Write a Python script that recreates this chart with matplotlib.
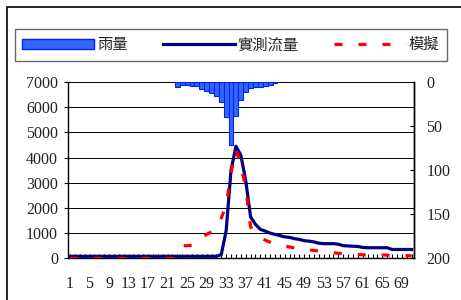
import matplotlib
matplotlib.use('Agg')
import matplotlib.pyplot as plt
from matplotlib.patches import Patch, Rectangle
from matplotlib.lines import Line2D

# time steps 1..71
categories = list(range(1, 72))

# measured discharge (實測流量)
measured = [80] * 31 + [150, 1100, 3500, 4450, 4100, 3100, 1650, 1350, 1150, 1080,
                        1000, 950, 900, 850, 830, 780, 750, 700, 680, 650,
                        600, 580, 580, 580, 560, 500, 490, 480, 470, 430] + [420] * 5 + [350] * 5

# simulated discharge (模擬)
simulated = [0] * 22 + [250, 500, 500, 520, 650, 800, 950, 1050, 1250, 1600,
                        2100, 3400, 4300, 3700, 2800, 1250, 1000, 820, 720, 640,
                        580, 530, 480, 450, 410, 380, 350, 330, 310, 290,
                        260, 240, 220, 200, 180, 170, 160, 150, 140] + [130] * 5 + [100] * 5

# rainfall (雨量), steps 23..43
rain_steps = list(range(23, 44))
rain = [5.5, 3, 3, 4.5, 5, 8, 10, 12, 16, 23, 40, 71, 39, 20, 11, 7, 6, 6, 4.5, 3.5, 1.5]

left_ticks = list(range(0, 7001, 1000))
right_ticks = [0, 50, 100, 150, 200]
xlabels = [str(c) if (c - 1) % 4 == 0 else '' for c in categories]

W, H = 461, 300
fig = plt.figure(figsize=(W / 100, H / 100), dpi=100)

# outer chart frame
fig.patches.append(Rectangle((6.5 / W, -0.5), 2, 1.5 - 6.5 / H, transform=fig.transFigure,
                             fill=False, edgecolor='black', lw=1.2))

ax = fig.add_axes([67.6 / W, 1 - 258.3 / H, (414 - 67.6) / W, (258.3 - 82) / H])
ax2 = ax.twinx()

ax.set_xlim(0.5, 71.5)
ax.set_ylim(0, 7000)
ax.set_yticks(left_ticks)
ax.yaxis.grid(True, color='black', lw=0.7)
ax.set_axisbelow(True)
ax.plot(categories, measured, color='#000080', lw=2.3, solid_joinstyle='round', zorder=3)
ax.plot(categories, simulated, color='#ff0000', lw=2.3, dashes=(2.5, 5.0),
        dash_capstyle='butt', zorder=4)

ax.set_xticks(categories)
ax.set_xticklabels(xlabels)
ax.tick_params(axis='x', direction='in', length=3, width=0.8, pad=13,
               labelsize=11.5, labelfontfamily='Liberation Serif', labelcolor='#222222')
ax.tick_params(axis='y', direction='out', length=3, width=0.8, pad=4,
               labelsize=11.5, labelfontfamily='Liberation Serif', labelcolor='#222222')
ax.spines['top'].set_visible(False)
for s in ['left', 'bottom', 'right']:
    ax.spines[s].set_linewidth(1.0)

ax2.bar(rain_steps, rain, width=1.0, color='#3366ff', edgecolor='#0022ee', lw=0.8)
ax2.set_ylim(200, 0)
ax2.set_yticks(right_ticks)
ax2.tick_params(axis='y', direction='in', length=3, width=0.8, pad=9,
                labelsize=11.5, labelfontfamily='Liberation Serif', labelcolor='#222222')
ax2.spines['top'].set_visible(False)
ax2.spines['left'].set_visible(False)
ax2.spines['bottom'].set_visible(False)
ax2.spines['right'].set_linewidth(1.0)

handles = [Patch(facecolor='#3366ff', edgecolor='#0022ee', lw=1.0),
           Line2D([], [], color='#000080', lw=2.3),
           Line2D([], [], color='#ff0000', lw=2.3, dashes=(2.5, 5.0), dash_capstyle='butt')]
labels = ['雨量', '實測流量', '模擬']
leg = fig.legend(handles, labels, loc='lower left', ncol=3, mode='expand',
                 bbox_to_anchor=(14.5 / W, 1 - 61 / H, (447 - 14.5) / W, 39 / H),
                 prop={'family': ['Noto Sans CJK TC', 'DejaVu Sans'], 'size': 11},
                 frameon=True, fancybox=False, edgecolor='#444444', borderaxespad=0,
                 handlelength=4.7, handleheight=0.6, handletextpad=0.2,
                 borderpad=0.5, labelcolor='#222222')
leg.get_frame().set_linewidth(1.0)

fig.savefig('out.png', dpi=100)
